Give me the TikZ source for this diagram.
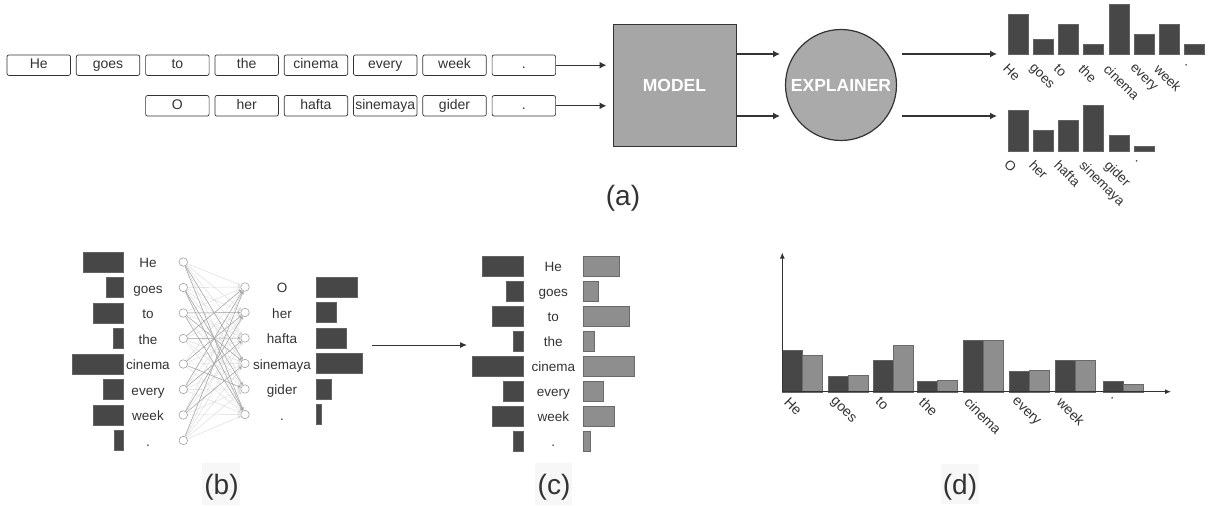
\documentclass[tikz,border=0pt]{standalone}
\usepackage{fontspec}
\setmainfont{Liberation Sans}
\usetikzlibrary{arrows.meta}
\definecolor{dk}{HTML}{474747}
\definecolor{lt}{HTML}{8E8E8E}
\definecolor{edgec}{HTML}{333333}
\definecolor{modelgray}{HTML}{A6A6A6}
\definecolor{explgray}{HTML}{AAAAAA}
\definecolor{txt}{HTML}{333333}
\definecolor{capbgc}{HTML}{F7F7F7}
\begin{document}
\begin{tikzpicture}[x=1pt,y=-1pt,
  word/.style={draw=edgec, rounded corners=2pt, line width=0.7pt, minimum width=63.5pt, minimum height=20.5pt, inner sep=0pt, text height=10pt, text depth=2.6pt, font=\fontsize{14}{16}\selectfont, text=txt},
  flow/.style={draw=edgec, line width=1.2pt, -{Latex[length=7pt,width=7pt]}},
  thinflow/.style={draw=edgec, line width=1pt, -{Latex[length=7pt,width=6pt]}},
  plain/.style={inner sep=0pt, anchor=base, font=\fontsize{13.5}{15}\selectfont, text=txt},
  rot/.style={inner sep=0pt, rotate=-45, anchor=north west, font=\fontsize{13.5}{15}\selectfont, text=txt},
  rotd/.style={inner sep=0pt, rotate=-45, anchor=north west, font=\fontsize{14}{16}\selectfont, text=txt},
  dbar/.style={fill=dk, draw=dk!85!white, line width=0.4pt},
  lbar/.style={fill=lt, draw=lt!75!black, line width=0.4pt},
  neuron/.style={circle, draw=gray!85, fill=white, line width=0.5pt, minimum size=8.5pt, inner sep=0pt},
  sublabel/.style={font=\fontsize{28}{32}\selectfont, text=txt, inner sep=0pt},
  sublabelbg/.style={fill=capbgc, draw=none},
  faint/.style={draw=gray!30, line width=0.4pt, -{Stealth[length=3pt,width=3pt]}},
  strong/.style={draw=gray!70, line width=0.5pt, -{Stealth[length=3pt,width=3pt]}}
]
\useasboundingbox (0,0) rectangle (1208,506);

% ---------- (a) ----------
\foreach \w [count=\i from 0] in {He,goes,to,the,cinema,every,week,.}
  \node[word] (a\i) at ({38.75+69.3*\i},65.2) {\w};
\foreach \w [count=\i from 2] in {O,her,hafta,sinemaya,gider,.}
  \node[word] (b\i) at ({38.75+69.3*\i},105.8) {\w};

\node[draw=edgec, fill=modelgray, minimum width=123pt, minimum height=122pt, line width=1pt,
      font=\bfseries\fontsize{17.5}{20}\selectfont, text=white, inner sep=0pt] (model) at (674.5,85) {MODEL};
\node[circle, draw=edgec, fill=explgray, minimum size=111pt, inner sep=0pt, line width=1.2pt,
      font=\bfseries\fontsize{17.5}{20}\selectfont, text=white] (expl) at (841,85) {EXPLAINER};

\draw[flow, shorten >=6pt] (a7) -- (a7 -| model.west);
\draw[flow, shorten >=6pt] (b7) -- (b7 -| model.west);

\coordinate (m1) at (780,54);
\coordinate (m2) at (780,116);
\draw[flow] (model.east |- m1) -- (m1);
\draw[flow] (model.east |- m2) -- (m2);

\coordinate (e1s) at (902,54);
\coordinate (e1t) at (997,54);
\coordinate (e2s) at (902,116);
\coordinate (e2t) at (997,116);
\draw[flow] (e1s) -- (e1t);
\draw[flow] (e2s) -- (e2t);

% top chart
\foreach \t/\w [count=\i from 0] in {14/He,39/goes,24/to,44/the,4/cinema,34/every,24/week,44/.}{
  \draw[dbar] ({1008+25.2*\i},\t) rectangle ({1028+25.2*\i},54.3);
  \node[rot] (ta\i) at ({1009+25.2*\i},63) {\w};
}
% second chart
\foreach \t/\w [count=\i from 0] in {110/O,130/her,120/hafta,105/sinemaya,135/gider,145.7/.}{
  \draw[dbar] ({1008+25.2*\i},\t) rectangle ({1028+25.2*\i},150.7);
  \node[rot] (tb\i) at ({1010+25.2*\i},159) {\w};
}

\node[sublabel] (la) at (623,198) {(a)};

% ---------- (b) ----------
\foreach \w/\bw [count=\i from 0] in {He/40.6,goes/17,to/30,the/10,cinema/50.7,every/20,week/30,./9.3}{
  \node[neuron] (l\i) at (183.3,{262+25.5*\i}) {};
  \node[plain] (lw\i) at (148,{262+25.5*\i+5.5}) {\w};
  \draw[dbar] ({123.3-\bw},{252+25.5*\i}) rectangle (123.3,{272+25.5*\i});
}
\foreach \w/\bw [count=\j from 0] in {O/41,her/20.3,hafta/30,sinemaya/46,gider/15,./5}{
  \node[neuron] (r\j) at (245,{287+25.5*\j}) {};
  \node[plain] (rw\j) at (282,{287+25.5*\j+5.5}) {\w};
  \draw[dbar] (315.7,{277+25.5*\j}) rectangle ({315.7+\bw},{297+25.5*\j});
}
\foreach \i in {0,...,7}
  \foreach \j in {0,...,5}
    \draw[faint] (l\i) -- (r\j);
\foreach \i/\j in {0/3,1/4,1/5,2/3,2/5,3/0,3/2,4/1,4/4,5/0,5/2,6/1,7/0,6/3,2/1,0/5}
  \draw[strong] (l\i) -- (r\j);

\coordinate (bc1) at (372,345);
\coordinate (bc2) at (467,345);
\draw[thinflow] (bc1) -- (bc2);

\draw[sublabelbg] (201.7,463) rectangle (240.3,505);
\node[sublabel] (lb) at (221.5,487) {(b)};

% ---------- (c) ----------
\foreach \w/\dw/\lw [count=\i from 0] in {He/40.3/35.7,goes/16.7/15,to/30.3/46,the/10/10.7,cinema/50.3/51,every/20/20,week/30.3/30.7,./9.3/6.7}{
  \draw[dbar] ({522.7-\dw},{256.5+25*\i}) rectangle (522.7,{276.5+25*\i});
  \node[plain] (cw\i) at (553.3,{266.5+25*\i+5}) {\w};
  \draw[lbar] (583.3,{256.5+25*\i}) rectangle ({583.3+\lw},{276.5+25*\i});
}
\draw[sublabelbg] (535,463) rectangle (572,505);
\node[sublabel] (lc) at (554,487) {(c)};

% ---------- (d) ----------
\foreach \x/\d/\l/\w [count=\i from 0] in {782.3/350/355/He,827.7/375.7/375/goes,873.3/360/345/to,917.3/380.7/380.3/the,962.7/340/340/cinema,1009.3/370.7/370/every,1055/360/360/week,1103.3/380.7/384/.}{
  \draw[dbar] (\x,\d) rectangle ({\x+20},391.7);
  \draw[lbar] ({\x+20},\l) rectangle ({\x+40},391.7);
  \node[rotd] (dl\i) at ({\x+8},396) {\w};
}
\coordinate (o) at (782.3,391.7);
\coordinate (ytop) at (782.3,252.5);
\coordinate (xend) at (1171,391.7);
\draw[draw=edgec, line width=1pt, -{Latex[length=6pt,width=5pt]}] (o) -- (ytop);
\draw[draw=edgec, line width=1pt, -{Latex[length=6pt,width=5pt]}] (o) -- (xend);

\draw[sublabelbg] (940.7,464) rectangle (979.3,504);
\node[sublabel] (ld) at (960,487) {(d)};
\end{tikzpicture}
\end{document}
